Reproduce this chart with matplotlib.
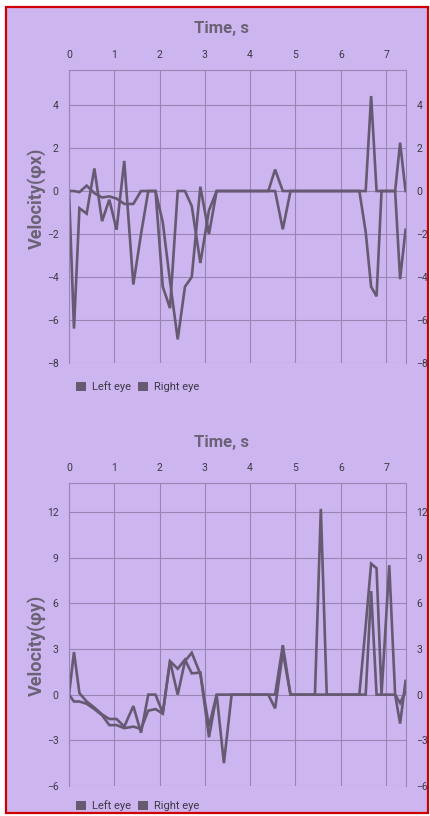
import matplotlib.pyplot as plt
from matplotlib.patches import Patch, Rectangle

plt.rcParams['font.family'] = ['Roboto', 'DejaVu Sans']

# time, s
t = [0, 0.11, 0.23, 0.39, 0.56, 0.73, 0.89, 1.05, 1.22, 1.42,
     1.59, 1.75, 1.91, 2.07, 2.23, 2.40, 2.56, 2.71, 2.90, 3.09,
     3.26, 3.42, 3.59, 3.90, 4.20, 4.40, 4.55, 4.72, 4.89, 5.10,
     5.30, 5.43, 5.56, 5.69, 5.90, 6.10, 6.28, 6.41, 6.55, 6.67,
     6.79, 6.90, 7.07, 7.20, 7.31, 7.43]

# horizontal velocity
vx_left = [0, -6.4, -0.8, -1.05, 1.05, -1.4, -0.4, -1.8, 1.4, -4.35,
           -2.0, 0, 0, -4.45, -5.45, 0, 0, -0.7, -3.35, -0.9,
           0, 0, 0, 0, 0, 0, 1.0, 0, 0, 0,
           0, 0, 0, 0, 0, 0, 0, 0, -1.9, -4.45,
           -4.9, 0, 0, 0, -4.1, -1.8]
vx_right = [0, 0, -0.05, 0.25, -0.1, -0.3, -0.25, -0.35, -0.6, -0.6,
            0, 0, 0, -1.45, -4.2, -6.9, -4.45, -4.0, 0.2, -2.0,
            0, 0, 0, 0, 0, 0, 0, -1.78, 0, 0,
            0, 0, 0, 0, 0, 0, 0, 0, 0, 4.42,
            0, 0, 0, 0, 2.25, 0]

# vertical velocity
vy_left = [0, 2.8, 0.1, -0.45, -0.85, -1.3, -1.6, -1.6, -2.1, -0.75,
           -2.5, 0, 0, -1.2, 2.2, 1.7, 2.3, 1.4, 1.45, -2.8,
           0, 0, 0, 0, 0, 0, 0, 3.25, 0, 0,
           0, 0, 12.2, 0, 0, 0, 0, 0, 4.5, 8.6,
           8.3, 0, 8.5, 0, -1.9, 0.9]
vy_right = [0, -0.45, -0.45, -0.6, -0.95, -1.35, -2.0, -2.0, -2.2, -2.1,
            -2.25, -1.05, -0.95, -1.25, 2.2, 0, 2.2, 2.75, 1.35, -2.1,
            0, -4.5, 0, 0, 0, 0, -0.9, 2.8, 0, 0,
            0, 0, 0, 0, 0, 0, 0, 0, 0, 6.8,
            0, 0, 0, 0, -0.55, 0.2]

x_ticks = [0, 1, 2, 3, 4, 5, 6, 7]
y_ticks_top = [-8, -6, -4, -2, 0, 2, 4]
y_ticks_bottom = [-6, -3, 0, 3, 6, 9, 12]

bg = '#cdb5f0'
line_col = '#655a72'
grid_col = '#9a84b3'
text_col = '#3c3844'
title_col = '#6a6275'

fig = plt.figure(figsize=(4.3, 8.16), dpi=100, facecolor='white')
fig.patches.append(Rectangle((6 / 430, 3 / 816), 422 / 430, 806 / 816,
                             transform=fig.transFigure, facecolor=bg,
                             edgecolor='#d00000', linewidth=1.6, zorder=-10))


def make_chart(rect, yl, yr, ticks, ylim, ylabel, title_y, label_y, legend_y):
    ax = fig.add_axes(rect)
    ax.set_facecolor(bg)
    ax.plot(t, yl, color=line_col, lw=1.9, solid_joinstyle='miter')
    ax.plot(t, yr, color=line_col, lw=1.9, solid_joinstyle='miter')
    ax.set_xlim(0, 7.44)
    ax.set_ylim(*ylim)
    ax.set_xticks(x_ticks)
    ax.set_yticks(ticks)
    ax.grid(True, color=grid_col, lw=0.8)
    for s in ax.spines.values():
        s.set_color(grid_col)
        s.set_linewidth(0.8)
    ax.spines['bottom'].set_visible(False)
    ax.tick_params(axis='x', top=False, bottom=False, labeltop=True,
                   labelbottom=False, labelsize=7.5, colors=text_col, pad=4)
    ax.tick_params(axis='y', left=False, right=False, labelleft=True,
                   labelright=True, labelsize=7.5, colors=text_col, pad=4)
    fig.text(222 / 430, 1 - title_y / 816, 'Time, s', ha='center', va='center',
             fontsize=12, fontweight='bold', color=title_col)
    fig.text(37 / 430, 1 - label_y / 816, ylabel, ha='center', va='center',
             rotation=90, fontsize=13, fontweight='bold', color=title_col)
    handles = [Patch(facecolor=line_col, label='Left eye'),
               Patch(facecolor=line_col, label='Right eye')]
    fig.legend(handles=handles, loc='center left',
               bbox_to_anchor=(76 / 430, 1 - legend_y / 816), ncol=2,
               frameon=False, fontsize=8, labelcolor=text_col,
               handlelength=0.9, handleheight=0.9, handletextpad=0.5,
               columnspacing=0.7, borderaxespad=0, borderpad=0)
    return ax


make_chart([69 / 430, 1 - 363 / 816, 337 / 430, 293 / 816], vx_left, vx_right,
           y_ticks_top, (-8, 5.63), 'Velocity(φx)', 29, 198, 387)
make_chart([69 / 430, 1 - 786 / 816, 337 / 430, 303 / 816], vy_left, vy_right,
           y_ticks_bottom, (-6, 13.9), 'Velocity(φy)', 443, 645, 806)

fig.savefig('out.png', dpi=100, facecolor='white')
